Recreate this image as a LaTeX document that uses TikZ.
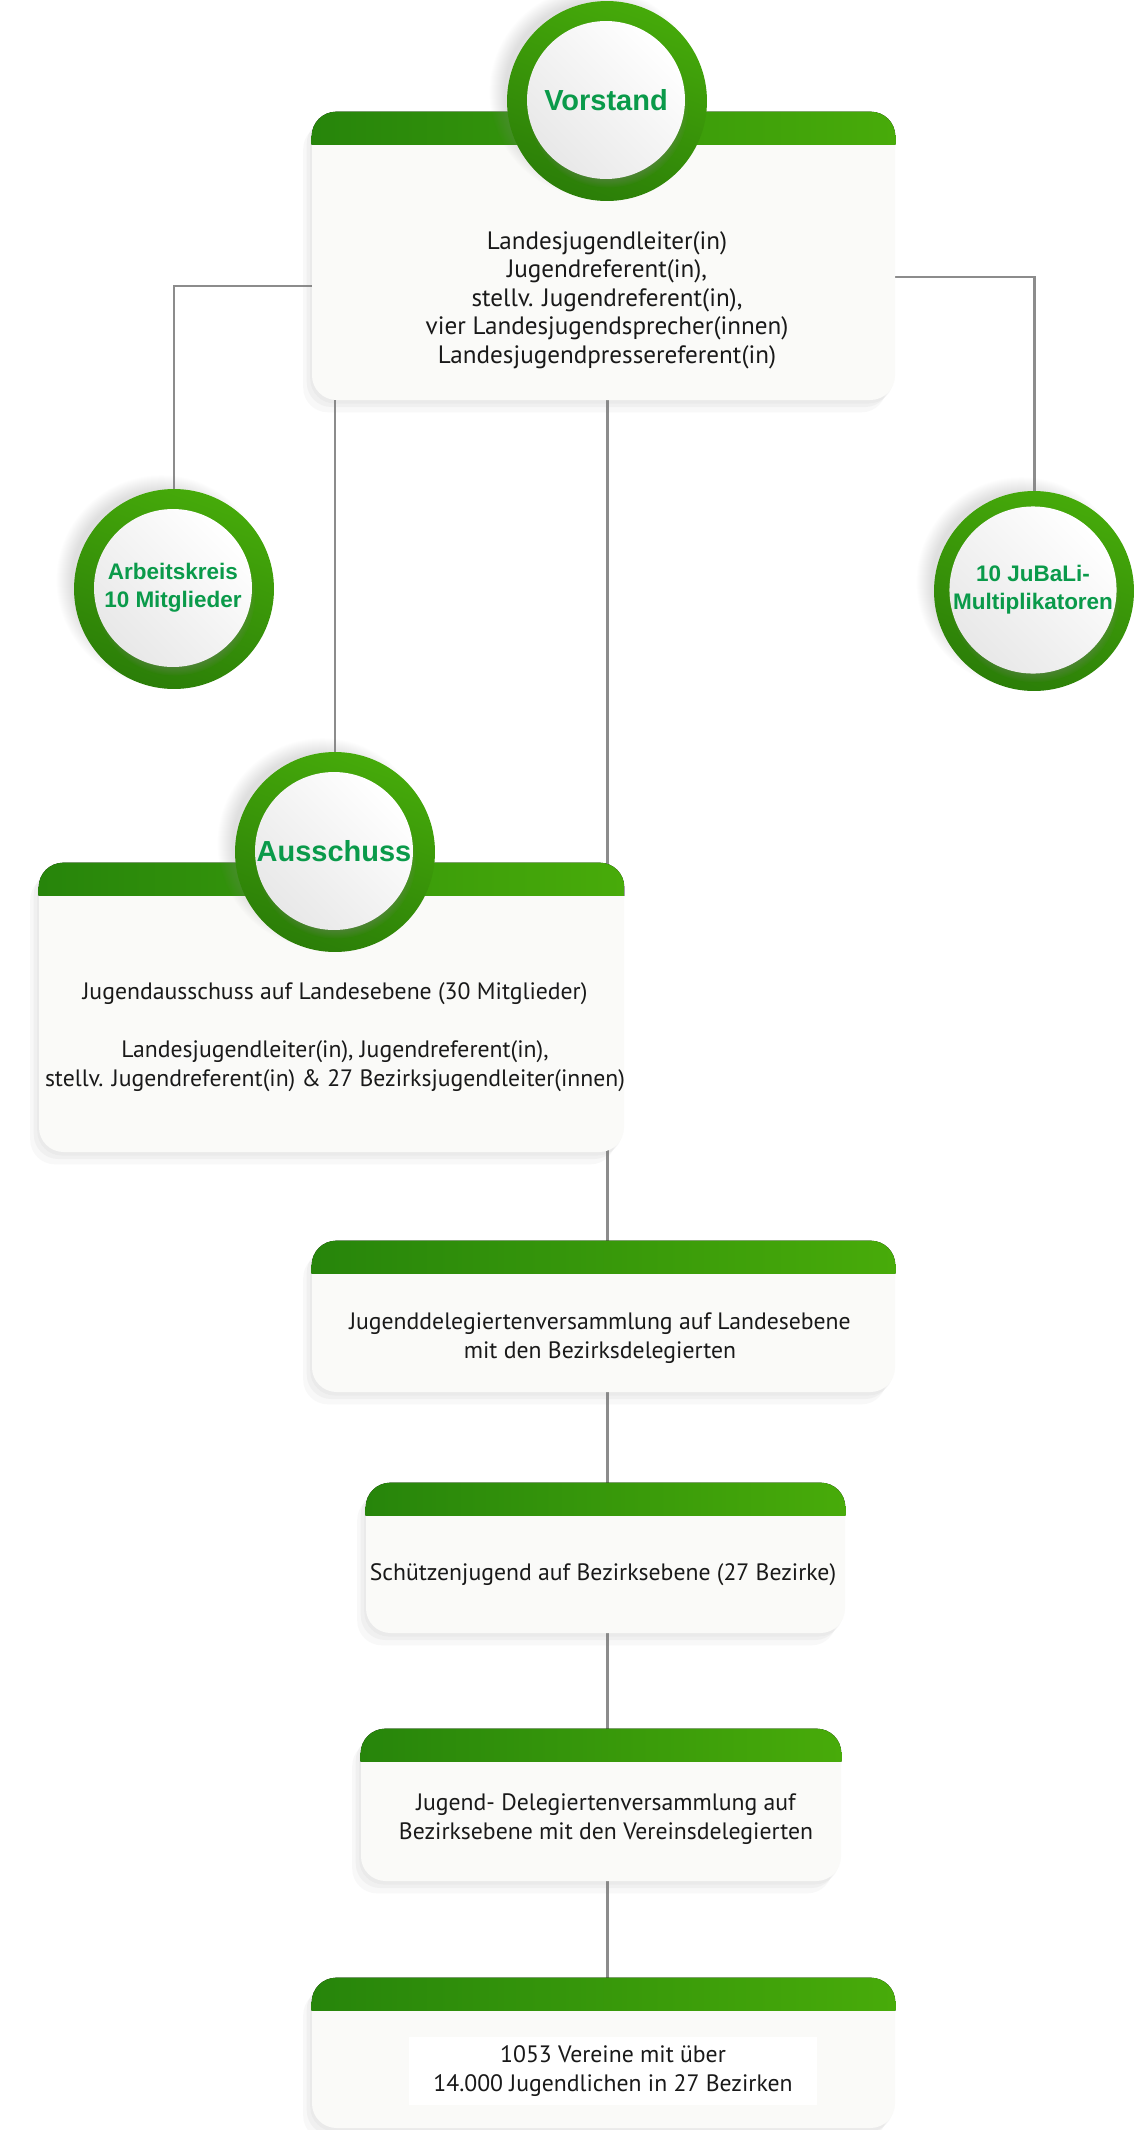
\documentclass[tikz,border=0pt]{standalone}
\usepackage{fontspec}
\setmainfont{PT Sans}
\newfontfamily\labelfont{Liberation Sans}
\usetikzlibrary{positioning, fit, shadows}
\definecolor{BandDark}{HTML}{27850B}
\definecolor{BandLight}{HTML}{48AB0A}
\definecolor{RingDark}{HTML}{2B7E08}
\definecolor{RingLight}{HTML}{46AA0A}
\definecolor{LabelGreen}{HTML}{0A9A4A}
\definecolor{LinkGrey}{HTML}{8C8C8C}
\definecolor{BoxWhite}{HTML}{FAFAF8}
\pgfdeclarelayer{background}
\pgfsetlayers{background,main}

\begin{document}
\begin{tikzpicture}[x=0.02cm, y=-0.02cm,
    orgbox/.style={inner sep=0pt, rounded corners=14pt, fill=BoxWhite,
      drop shadow={shadow xshift=-1pt, shadow yshift=-2pt, opacity=.06},
      drop shadow={shadow xshift=-3pt, shadow yshift=-4pt, opacity=.06},
      drop shadow={shadow xshift=-5pt, shadow yshift=-7pt, opacity=.05}},
    band/.style={rounded corners=14pt, left color=BandDark, right color=BandLight},
    boxtext/.style={font=\fontsize{13.5}{16.5}\selectfont, align=center, text=black!90},
    ring/.style={circle, inner sep=0pt, minimum size=4cm, top color=RingLight, bottom color=RingDark, shading angle=-20,
      circular drop shadow={shadow xshift=-7pt, shadow yshift=5pt, shadow scale=1.05, opacity=.25}},
    disc/.style={circle, inner sep=0pt, minimum size=3.16cm, left color=white, right color=black!9, shading angle=-45,
      circular drop shadow={shadow xshift=1pt, shadow yshift=-4pt, shadow scale=1.02, opacity=.45},
      align=center, text=LabelGreen},
    smalllabel/.style={font=\labelfont\bfseries\fontsize{12.8}{15.9}\selectfont},
    biglabel/.style={font=\labelfont\bfseries\fontsize{16.5}{19}\selectfont},
    link/.style={draw=LinkGrey, line width=1.7pt}]

\begin{pgfonlayer}{background}
  \fill[white] (0,0) rectangle (1136,2130);
\end{pgfonlayer}
\useasboundingbox (0,0) rectangle (1136,2130);

% Boxes
\node[orgbox, fit={(312,112) (895,400)}] (vorstand) {};
\node[orgbox, fit={(39,863) (624,1152)}] (ausschuss) {};
\node[orgbox, fit={(312,1241) (895,1392)}] (jdv) {};
\node[orgbox, fit={(366,1483) (845,1633)}] (bezirk) {};
\node[orgbox, fit={(361,1729) (841,1881)}] (bdv) {};
\node[orgbox, fit={(312,1978) (895,2128)}] (vereine) {};

% Green bands
\foreach \b in {vorstand,ausschuss,jdv,bezirk,bdv,vereine} {
  \begin{scope}
    \clip (\b.north west) rectangle ([yshift=-0.66cm]\b.north east);
    \fill[band] (\b.north west) rectangle ([yshift=-2cm]\b.north east);
  \end{scope}
}

% Texts
\node[boxtext, font=\fontsize{14.3}{16.2}\selectfont] (vorstand-text) at (607,300) {Landesjugendleiter(in)\\Jugendreferent(in),\\stellv. Jugendreferent(in),\\vier Landesjugendsprecher(innen)\\Landesjugendpressereferent(in)};
\node[boxtext] (ausschuss-text) at (335,1037) {Jugendausschuss auf Landesebene (30 Mitglieder)\\[16.5pt]Landesjugendleiter(in), Jugendreferent(in),\\stellv. Jugendreferent(in) \& 27 Bezirksjugendleiter(innen)};
\node[boxtext] (jdv-text) at (600,1338) {Jugenddelegiertenversammlung auf Landesebene\\mit den Bezirksdelegierten};
\node[boxtext] (bezirk-text) at (603,1575) {Schützenjugend auf Bezirksebene (27 Bezirke)};
\node[boxtext] (bdv-text) at (606,1819) {Jugend- Delegiertenversammlung auf\\Bezirksebene mit den Vereinsdelegierten};
\node[boxtext, fill=white, inner xsep=14pt, inner ysep=5pt] (vereine-text) at (613,2071) {1053 Vereine mit über\\14.000 Jugendlichen in 27 Bezirken};

% Circles
\node[ring] (vorstand-ring) at (607,101) {};
\node[disc, biglabel] (vorstand-label) at (606,100) {Vorstand};
\node[ring] (arbeitskreis-ring) at (174,589) {};
\node[disc, smalllabel] (arbeitskreis-label) at (173,588) {Arbeitskreis\\10 Mitglieder};
\node[ring] (jubali-ring) at (1034,591) {};
\node[disc, smalllabel] (jubali-label) at (1033,590) {10 JuBaLi-\\Multiplikatoren};
\node[ring] (ausschuss-ring) at (335,852) {};
\node[disc, biglabel] (ausschuss-label) at (334,851) {Ausschuss};

% Connectors
\coordinate (spine) at (607,0);
\begin{pgfonlayer}{background}
  \draw[link] ([yshift=-0.6cm]vorstand.west) -| (arbeitskreis-ring);
  \draw[link] ([yshift=-0.42cm]vorstand.east) -| (jubali-ring);
  \draw[link] (ausschuss-ring) -- (ausschuss-ring |- vorstand.south);
  \draw[link] (vorstand.south -| spine) -- (jdv.north -| spine);
  \draw[link] (jdv.south -| spine) -- (bezirk.north -| spine);
  \draw[link] (bezirk.south -| spine) -- (bdv.north -| spine);
  \draw[link] (bdv.south -| spine) -- (vereine.north -| spine);
\end{pgfonlayer}
\end{tikzpicture}
\end{document}
